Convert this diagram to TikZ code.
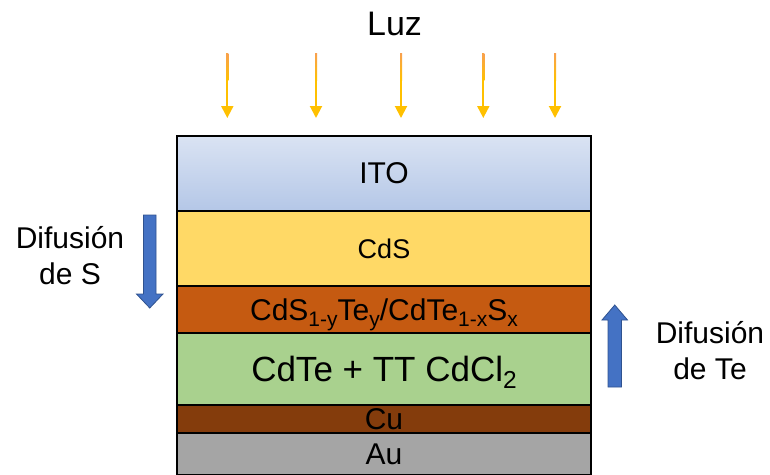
\documentclass[tikz,border=0pt]{standalone}
\usepackage{fontspec}
\setmainfont{Liberation Sans}
\usepackage{graphicx}
\usetikzlibrary{arrows.meta}

\definecolor{itotop}{HTML}{DAE3F3}
\definecolor{itobot}{HTML}{B4C7E7}
\definecolor{cdsfill}{HTML}{FFD966}
\definecolor{mixfill}{HTML}{C55A11}
\definecolor{cdtefill}{HTML}{A9D18E}
\definecolor{cufill}{HTML}{843C0C}
\definecolor{aufill}{HTML}{A5A5A5}
\definecolor{rayamber}{HTML}{FFC000}
\definecolor{rayorange}{HTML}{F8A050}
\definecolor{flowblue}{HTML}{4472C4}
\definecolor{flowedge}{HTML}{2F528F}

% lowered, reduced index for chemical formulas
\newcommand\chemidx[1]{\raisebox{-0.2em}{\scalebox{0.7}{#1}}}

\tikzset{
  layer/.style={draw=black, line width=1.4pt, minimum width=414pt,
    inner sep=0pt, outer sep=0pt, anchor=north, text depth=0pt,
    font=\fontsize{30}{36}\selectfont},
  ray/.style={draw=rayamber, line width=2pt,
    -{Triangle[width=12pt,length=12pt]}},
  flow/.style={fill=flowblue, draw=flowedge, line width=0.8pt},
  sidetext/.style={align=center, inner sep=0pt,
    font=\fontsize{30}{36}\selectfont},
}

\begin{document}
\begin{tikzpicture}[x=1pt, y=-1pt]
  \useasboundingbox (0,0) rectangle (770,474);
  \clip (0,0) rectangle (770,474);

  % title
  \node[anchor=base, inner sep=0pt, font=\fontsize{34}{40}\selectfont]
    (luz) at (394.5,35) {Luz};

  % incoming light rays
  \foreach \i/\x in {1/227.3, 2/316, 3/401, 4/483.3, 5/555}{
    \coordinate (r\i a) at (\x,53);
    \coordinate (r\i b) at (\x,118);
    \draw[ray] (r\i a) -- (r\i b);
    \shade[top color=rayorange, bottom color=rayamber]
      (\x-1,53) rectangle (\x+1,80);
  }

  % layer stack
  \node[layer, top color=itotop, bottom color=itobot, minimum height=75pt]
    (ito) at (384,136) {ITO};
  \node[layer, fill=cdsfill, minimum height=75pt,
    font=\fontsize{27}{32}\selectfont] (cds) at (ito.south) {CdS};
  \node[layer, fill=mixfill, minimum height=47pt] (mix) at (cds.south)
    {CdS\chemidx{1-y}Te\chemidx{y}/CdTe\chemidx{1-x}S\chemidx{x}};
  \node[layer, fill=cdtefill, minimum height=72pt,
    font=\fontsize{35}{42}\selectfont] (cdte) at (mix.south)
    {CdTe + TT CdCl\chemidx{2}};
  \node[layer, fill=cufill, minimum height=28pt] (cu) at (cdte.south) {Cu};
  \node[layer, fill=aufill, minimum height=42pt] (au) at (cu.south) {Au};

  % diffusion of S (downwards)
  \node[sidetext] (difs) at (70,255.5) {Difusión\\de S};
  \draw[flow] (143.5,215) -- (156,215) -- (156,294) -- (163,294)
    -- (149.75,308) -- (136.5,294) -- (143.5,294) -- cycle;

  % diffusion of Te (upwards)
  \node[sidetext] (dift) at (710,351) {Difusión\\de Te};
  \draw[flow] (608,387) -- (621.5,387) -- (621.5,320) -- (627.5,320)
    -- (614.75,305) -- (602,320) -- (608,320) -- cycle;
\end{tikzpicture}
\end{document}
